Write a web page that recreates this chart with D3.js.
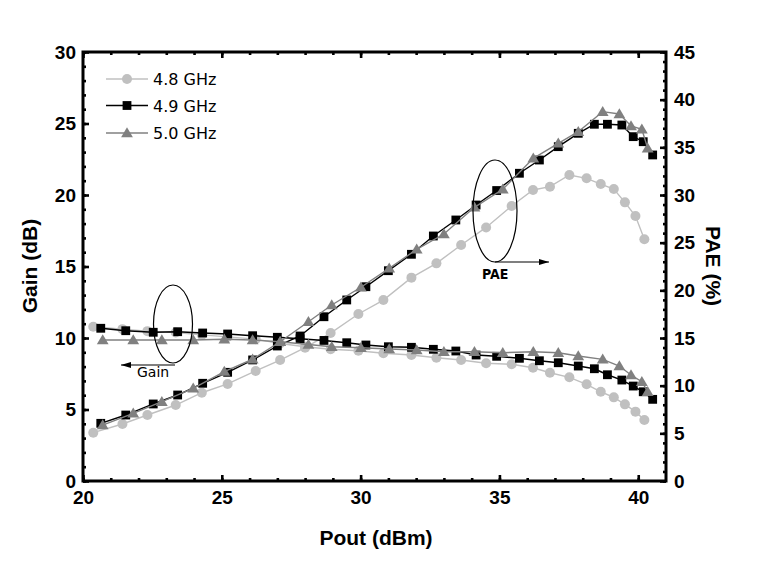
<!DOCTYPE html>
<html><head><meta charset="utf-8">
<script src="https://cdn.jsdelivr.net/npm/d3@7"></script>
<style>body{margin:0;background:#fff}svg{display:block}</style>
</head><body><svg id="c" width="757" height="570"></svg>
<script>
// ---- data ----
const series = ["4.8 GHz", "4.9 GHz", "5.0 GHz"];
const pout48 = [20.37, 21.42, 22.32, 23.34, 24.28, 25.21, 26.22, 27.10, 28.00, 28.92, 29.92, 30.82, 31.83, 32.73, 33.62, 34.52, 35.44, 36.21, 36.82, 37.52, 38.14, 38.65, 39.12, 39.52, 39.90, 40.22];
const gain48 = [10.79, 10.62, 10.48, 10.38, 10.22, 10.08, 9.92, 9.62, 9.39, 9.21, 9.11, 8.93, 8.81, 8.62, 8.46, 8.23, 8.16, 7.92, 7.57, 7.25, 6.76, 6.24, 5.85, 5.36, 4.85, 4.27];
const pae48  = [5.07, 5.98, 6.92, 7.97, 9.26, 10.18, 11.54, 12.69, 13.98, 15.52, 17.52, 18.98, 21.33, 22.83, 24.76, 26.6, 28.85, 30.53, 30.87, 32.10, 31.75, 31.15, 30.63, 29.23, 27.80, 25.35];

const pout49 = [20.64, 21.54, 22.53, 23.41, 24.31, 25.21, 26.11, 27.00, 27.82, 28.68, 29.50, 30.19, 31.00, 31.83, 32.62, 33.43, 34.16, 34.90, 35.72, 36.44, 37.12, 37.84, 38.42, 38.89, 39.41, 39.82, 40.18, 40.52];
const gain49 = [10.68, 10.51, 10.40, 10.44, 10.35, 10.28, 10.16, 10.05, 9.95, 9.83, 9.67, 9.51, 9.39, 9.35, 9.21, 9.09, 8.81, 8.72, 8.58, 8.41, 8.27, 8.04, 7.85, 7.43, 7.06, 6.64, 6.24, 5.71];
const pae49  = [6.05, 6.92, 8.08, 9.02, 10.25, 11.4, 12.7, 14.16, 15.21, 17.23, 18.99, 20.38, 22.06, 23.78, 25.70, 27.38, 28.95, 30.47, 32.28, 33.67, 35.07, 36.47, 37.42, 37.42, 37.34, 36.12, 35.59, 34.20];

const pout50 = [20.71, 21.81, 22.84, 23.97, 25.09, 26.11, 27.10, 28.12, 28.96, 30.01, 31.03, 32.02, 33.00, 34.10, 35.12, 36.22, 37.12, 37.84, 38.72, 39.32, 39.74, 40.13, 40.34];
const gain50 = [9.86, 9.86, 9.86, 9.86, 9.91, 9.86, 9.74, 9.55, 9.39, 9.32, 9.23, 9.16, 9.04, 9.04, 8.97, 9.04, 8.97, 8.74, 8.51, 8.04, 7.41, 6.94, 6.24];
const pae50  = [5.87, 7.10, 8.32, 9.72, 11.47, 12.77, 14.61, 16.7, 18.46, 20.32, 22.31, 24.30, 25.91, 28.71, 30.60, 33.85, 35.42, 36.64, 38.74, 38.50, 37.24, 36.89, 34.90];

const xTicks = [20, 25, 30, 35, 40];
const gainTicks = [0, 5, 10, 15, 20, 25, 30];
const paeTicks = [0, 5, 10, 15, 20, 25, 30, 35, 40, 45];

// ---- layout ----
const L = 83, R = 666, T = 52, B = 481;
const svg = d3.select("#c");
const x = d3.scaleLinear().domain([20, 41]).range([L, R]);
const yG = d3.scaleLinear().domain([0, 30]).range([B, T]);
const yP = d3.scaleLinear().domain([0, 45]).range([B, T]);

const styles = [
  {color: "#c0c0c0", shape: "circle"},
  {color: "#000000", shape: "square"},
  {color: "#808080", shape: "triangle"}
];
const sets = [
  {p: pout48, g: gain48, e: pae48},
  {p: pout49, g: gain49, e: pae49},
  {p: pout50, g: gain50, e: pae50}
];

function marker(sel, shape, color) {
  if (shape === "circle") {
    sel.append("circle").attr("r", 5).attr("fill", color);
  } else if (shape === "square") {
    sel.append("rect").attr("x", -4.4).attr("y", -4.4).attr("width", 8.8).attr("height", 8.8).attr("fill", color);
  } else {
    sel.append("path").attr("d", "M0,-5.8L5.9,4.2L-5.9,4.2Z").attr("fill", color);
  }
}

const plot = svg.append("g");
sets.forEach((s, i) => {
  const st = styles[i];
  [[s.g, yG], [s.e, yP]].forEach(([vals, ys]) => {
    const pts = s.p.map((p, k) => [p, vals[k]]);
    plot.append("path").datum(pts)
      .attr("fill", "none").attr("stroke", st.color).attr("stroke-width", 1.4)
      .attr("d", d3.line().x(d => x(d[0])).y(d => ys(d[1])));
    plot.selectAll(null).data(pts).enter().append("g")
      .attr("transform", d => `translate(${x(d[0])},${ys(d[1])})`)
      .each(function () { marker(d3.select(this), st.shape, st.color); });
  });
});

// ---- axes ----
const tickFont = "bold 19px 'Liberation Sans', Arial, sans-serif";
function styleAxis(g) {
  g.select(".domain").remove();
  g.selectAll(".tick line").attr("stroke", "#000").attr("stroke-width", 2.6);
  g.selectAll(".tick text").style("font", tickFont).attr("fill", "#000");
}
// bottom
svg.append("g").attr("transform", `translate(0,${B})`)
  .call(d3.axisBottom(x).tickValues(d3.range(20, 41, 1)).tickSize(-3).tickFormat("")).call(styleAxis);
svg.append("g").attr("transform", `translate(0,${B})`)
  .call(d3.axisBottom(x).tickValues(xTicks).tickSize(-6).tickPadding(10).tickFormat(d3.format("d"))).call(styleAxis);
// top
svg.append("g").attr("transform", `translate(0,${T})`)
  .call(d3.axisTop(x).tickValues(d3.range(20, 41, 1)).tickSize(-3).tickFormat("")).call(styleAxis);
svg.append("g").attr("transform", `translate(0,${T})`)
  .call(d3.axisTop(x).tickValues(xTicks).tickSize(-6).tickFormat("")).call(styleAxis);
// left
svg.append("g").attr("transform", `translate(${L},0)`)
  .call(d3.axisLeft(yG).tickValues(d3.range(0, 31, 1)).tickSize(-3).tickFormat("")).call(styleAxis);
svg.append("g").attr("transform", `translate(${L},0)`)
  .call(d3.axisLeft(yG).tickValues(gainTicks).tickSize(-6).tickPadding(7).tickFormat(d3.format("d"))).call(styleAxis);
// right
svg.append("g").attr("transform", `translate(${R},0)`)
  .call(d3.axisRight(yP).tickValues(d3.range(0, 46, 1)).tickSize(-3).tickFormat("")).call(styleAxis);
svg.append("g").attr("transform", `translate(${R},0)`)
  .call(d3.axisRight(yP).tickValues(paeTicks).tickSize(-6).tickPadding(8).tickFormat(d3.format("d"))).call(styleAxis);

// frame
svg.append("rect").attr("x", L).attr("y", T).attr("width", R - L).attr("height", B - T)
  .attr("fill", "none").attr("stroke", "#000").attr("stroke-width", 3);

// axis titles
const titleFont = "bold 21px 'Liberation Sans', Arial, sans-serif";
svg.append("text").attr("x", 376).attr("y", 545).attr("text-anchor", "middle")
  .style("font", titleFont).text("Pout (dBm)");
svg.append("text").attr("transform", "translate(37,266) rotate(-90)").attr("text-anchor", "middle")
  .style("font", titleFont).text("Gain (dB)");
svg.append("text").attr("transform", "translate(706,266) rotate(90)").attr("text-anchor", "middle")
  .style("font", titleFont).text("PAE (%)");

// legend
const legFont = "16px 'DejaVu Sans', sans-serif";
const legY = [79, 105.5, 133];
series.forEach((name, i) => {
  const g = svg.append("g").attr("transform", `translate(0,${legY[i]})`);
  g.append("line").attr("x1", 106).attr("x2", 148).attr("stroke", styles[i].color).attr("stroke-width", 1.4);
  const m = g.append("g").attr("transform", "translate(127,0)");
  marker(m, styles[i].shape, styles[i].color);
  g.append("text").attr("x", 153).attr("y", 6).style("font", legFont).attr("fill", "#000").text(name);
});

// annotations
const ann = svg.append("g").attr("fill", "none").attr("stroke", "#000").attr("stroke-width", 1.2);
ann.append("ellipse").attr("cx", 173).attr("cy", 324).attr("rx", 19.5).attr("ry", 39);
ann.append("ellipse").attr("cx", 495).attr("cy", 211).attr("rx", 22).attr("ry", 51);
svg.append("defs").append("marker").attr("id", "ah").attr("viewBox", "0 0 10 6")
  .attr("refX", 10).attr("refY", 3).attr("markerWidth", 10).attr("markerHeight", 6)
  .attr("markerUnits", "userSpaceOnUse").attr("orient", "auto")
  .append("path").attr("d", "M0,0L10,3L0,6Z").attr("fill", "#000");
ann.append("line").attr("x1", 175).attr("y1", 365).attr("x2", 121).attr("y2", 365).attr("marker-end", "url(#ah)");
ann.append("line").attr("x1", 495).attr("y1", 262).attr("x2", 549).attr("y2", 262).attr("marker-end", "url(#ah)");
svg.append("text").attr("x", 137).attr("y", 377).style("font", "14px 'DejaVu Sans', sans-serif").text("Gain");
svg.append("text").attr("x", 482).attr("y", 279).style("font", "bold 14px 'DejaVu Sans Condensed', 'DejaVu Sans', sans-serif").text("PAE");
</script></body></html>
